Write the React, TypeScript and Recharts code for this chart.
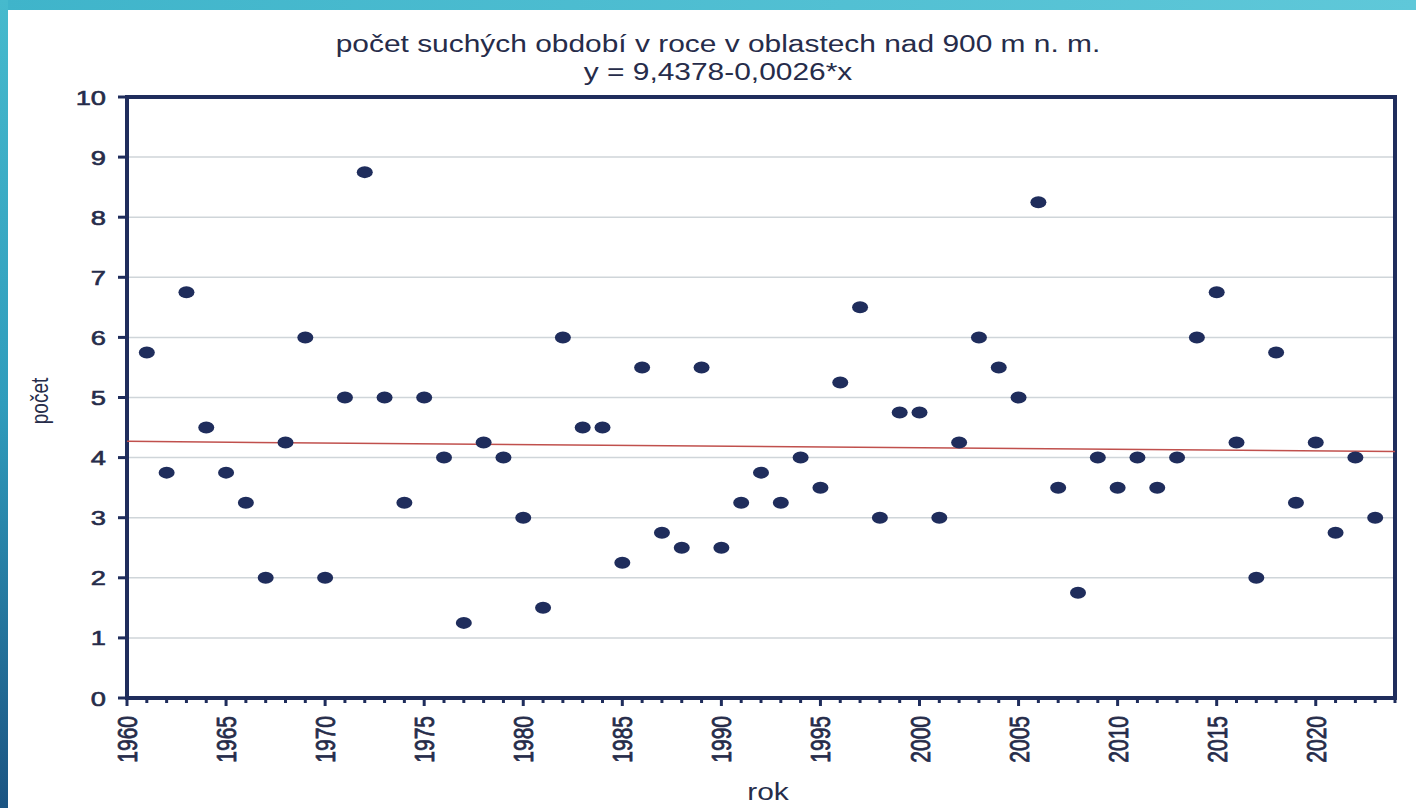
import React from 'react';
import {
    ScatterChart,
    Scatter,
    XAxis,
    YAxis,
    CartesianGrid,
    ReferenceLine,
    ReferenceArea
} from 'recharts';

// dry periods per year
const years = [
    1961, 1962, 1963, 1964, 1965, 1966, 1967, 1968, 1969, 1970,
    1971, 1972, 1973, 1974, 1975, 1976, 1977, 1978, 1979, 1980,
    1981, 1982, 1983, 1984, 1985, 1986, 1987, 1988, 1989, 1990,
    1991, 1992, 1993, 1994, 1995, 1996, 1997, 1998, 1999, 2000,
    2001, 2002, 2003, 2004, 2005, 2006, 2007, 2008, 2009, 2010,
    2011, 2012, 2013, 2014, 2015, 2016, 2017, 2018, 2019, 2020,
    2021, 2022, 2023
];
const counts = [
    5.75, 3.75, 6.75, 4.5, 3.75, 3.25, 2, 4.25, 6, 2,
    5, 8.75, 5, 3.25, 5, 4, 1.25, 4.25, 4, 3,
    1.5, 6, 4.5, 4.5, 2.25, 5.5, 2.75, 2.5, 5.5, 2.5,
    3.25, 3.75, 3.25, 4, 3.5, 5.25, 6.5, 3, 4.75, 4.75,
    3, 4.25, 6, 5.5, 5, 8.25, 3.5, 1.75, 4, 3.5,
    4, 3.5, 4, 6, 6.75, 4.25, 2, 5.75, 3.25, 4.25,
    2.75, 4, 3
];

// linear trend end points
const trendYears = [1960, 2024];
const trendValues = [4.27, 4.1];

const yTicks = [0, 1, 2, 3, 4, 5, 6, 7, 8, 9, 10];
const xTicks = Array.from({ length: 65 }, (_, i) => 1960 + i);
const labeledYears = [1960, 1965, 1970, 1975, 1980, 1985, 1990, 1995, 2000, 2005, 2010, 2015, 2020];

const titleLines = ['počet suchých období v roce v oblastech nad 900 m n. m.', 'y = 9,4378-0,0026*x'];

const NAVY = '#1f2d5c';
const TEXT = '#262c4a';
const FONT = '"Liberation Sans", Arial, sans-serif';

const data = years.map((year, i) => ({ year, count: counts[i] }));

const XTick = (props: any) => {
    const { x, y, payload } = props;
    const v = payload.value;
    const major = v % 5 === 0;
    return (
        <g>
            <line x1={x} x2={x} y1={y} y2={y + (major ? 8 : 5)} stroke={NAVY} strokeWidth={3} />
            {labeledYears.includes(v) && (
                <text
                    transform={`translate(${x + 10},${y + 18}) scale(1.3,1) rotate(-90)`}
                    textAnchor="end"
                    fontSize={21}
                    fontFamily={FONT}
                    fill={TEXT}
                    stroke={TEXT}
                    strokeWidth={0.6}
                >
                    {v}
                </text>
            )}
        </g>
    );
};

const YTick = (props: any) => {
    const { x, y, payload } = props;
    return (
        <g>
            <line x1={x - 9} x2={x} y1={y} y2={y} stroke={NAVY} strokeWidth={3} />
            <text
                transform={`translate(${x - 21},${y + 7.5}) scale(1.3,1)`}
                textAnchor="end"
                fontSize={21}
                fontFamily={FONT}
                fill={TEXT}
                stroke={TEXT}
                strokeWidth={0.6}
            >
                {payload.value}
            </text>
        </g>
    );
};

const Dot = (props: any) => (
    <ellipse cx={props.cx} cy={props.cy} rx={8} ry={6} fill={NAVY} />
);

const textStyle = (left: number, top: number, size: number, extra = ''): React.CSSProperties => ({
    position: 'absolute',
    left,
    top,
    fontFamily: FONT,
    fontSize: size,
    color: TEXT,
    whiteSpace: 'nowrap',
    lineHeight: 1,
    transform: `translate(-50%,-50%) scaleX(1.3)${extra}`
});

const App: React.FC = () => {
    return (
        <div style={{ position: 'absolute', left: 0, top: 0, width: 1416, height: 808, background: '#fff', overflow: 'hidden' }}>
            <ScatterChart width={1416} height={808} margin={{ top: 97, right: 21, bottom: 0, left: 0 }}>
                <CartesianGrid vertical={false} stroke="#cfd5d9" strokeWidth={1.5} />
                <XAxis
                    type="number"
                    dataKey="year"
                    domain={[1960, 2024]}
                    ticks={xTicks}
                    interval={0}
                    height={110}
                    axisLine={false}
                    tickLine={false}
                    tickSize={0}
                    tickMargin={0}
                    tick={<XTick />}
                />
                <YAxis
                    type="number"
                    dataKey="count"
                    domain={[0, 10]}
                    ticks={yTicks}
                    interval={0}
                    width={127}
                    axisLine={false}
                    tickLine={false}
                    tickSize={0}
                    tickMargin={0}
                    tick={<YTick />}
                />
                <ReferenceLine
                    segment={[
                        { x: trendYears[0], y: trendValues[0] },
                        { x: trendYears[1], y: trendValues[1] }
                    ]}
                    stroke="#c0504d"
                    strokeWidth={1.5}
                />
                <Scatter data={data} shape={<Dot />} isAnimationActive={false} />
                <ReferenceArea x1={1960} x2={2024} y1={0} y2={10} fill="none" stroke={NAVY} strokeWidth={4} />
            </ScatterChart>

            <div style={textStyle(718, 44, 23)}>{titleLines[0]}</div>
            <div style={textStyle(718, 72, 23)}>{titleLines[1]}</div>
            <div style={textStyle(40, 401, 19, ' rotate(-90deg)')}>počet</div>
            <div style={textStyle(768, 792, 23)}>rok</div>

            <div style={{ position: 'absolute', left: 0, top: 0, width: 1416, height: 10, background: 'linear-gradient(90deg, #3fb4ca, #5fc8d9)' }} />
            <div style={{ position: 'absolute', left: 0, top: 0, width: 8, height: 808, background: 'linear-gradient(180deg, #46bacd 0%, #2f9cbc 50%, #1b5482 100%)' }} />
        </div>
    );
};

export default App;
